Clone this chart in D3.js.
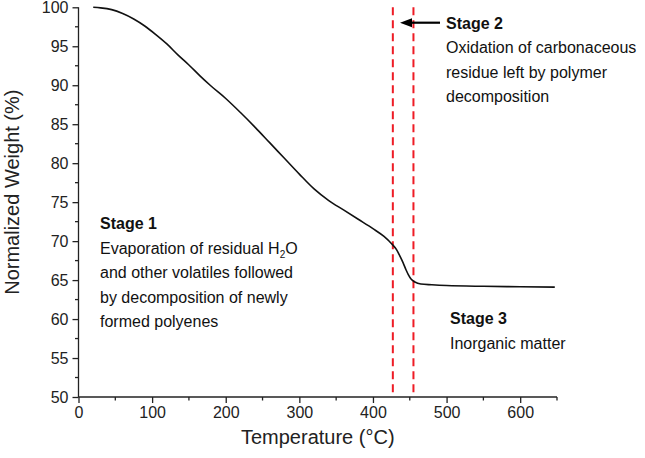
<!DOCTYPE html>
<html>
<head>
<meta charset="utf-8">
<script src="https://cdn.jsdelivr.net/npm/d3@7"></script>
<style>
  html, body { margin: 0; padding: 0; background: #fff; }
  svg { display: block; font-family: "Liberation Sans", Arial, sans-serif; }
</style>
</head>
<body>
<svg id="chart" width="645" height="458"></svg>
<script>
// ---- data ----
const temperatures = [20, 30, 45, 60, 75, 90, 105, 120, 135, 150, 165, 180, 200, 220, 240, 260, 280, 300, 320, 340, 360, 380, 400, 415, 425, 432, 437, 441, 445, 448, 452, 457, 465, 480, 500, 550, 600, 647];
const weights = [100, 99.93, 99.7, 99.2, 98.5, 97.6, 96.5, 95.3, 93.9, 92.6, 91.2, 89.9, 88.3, 86.5, 84.6, 82.6, 80.6, 78.6, 76.7, 75.2, 74.0, 72.8, 71.6, 70.6, 69.7, 68.9, 68.0, 67.2, 66.3, 65.7, 65.1, 64.75, 64.5, 64.4, 64.3, 64.2, 64.15, 64.1];
const xTicks = [0, 100, 200, 300, 400, 500, 600];
const yTicks = [50, 55, 60, 65, 70, 75, 80, 85, 90, 95, 100];
const stageLines = [427, 455];
const xTitle = "Temperature (°C)";
const yTitle = "Normalized Weight (%)";

// ---- layout ----
const svg = d3.select("#chart");
const mLeft = 78.5, mRight = 557, mTop = 7.3, mBottom = 397;
const x = d3.scaleLinear().domain([0, 650]).range([mLeft, mRight]);
const y = d3.scaleLinear().domain([50, 100]).range([mBottom, mTop]);
const axisColor = "#222";

// minor ticks
const xMinor = d3.range(50, 651, 100);
const yMinor = d3.range(52.5, 100, 5);

// red dashed lines
svg.selectAll("line.stage").data(stageLines).join("line")
  .attr("class", "stage")
  .attr("x1", d => x(d)).attr("x2", d => x(d))
  .attr("y1", y(100)).attr("y2", y(50) - 1)
  .attr("stroke", "#ee1c25").attr("stroke-width", 2)
  .attr("stroke-dasharray", "8,5");

// X axis
const gx = svg.append("g").attr("transform", `translate(0,${mBottom})`);
gx.call(d3.axisBottom(x).tickValues(xTicks).tickSize(6).tickPadding(4).tickFormat(d3.format("d")));
gx.append("g").selectAll("line").data(xMinor).join("line")
  .attr("x1", d => x(d)).attr("x2", d => x(d)).attr("y1", 0).attr("y2", 3.5)
  .attr("stroke", axisColor).attr("stroke-width", 1.3);

// Y axis
const gy = svg.append("g").attr("transform", `translate(${mLeft},0)`);
gy.call(d3.axisLeft(y).tickValues(yTicks).tickSize(6).tickPadding(4).tickFormat(d3.format("d")));
gy.append("g").selectAll("line").data(yMinor).join("line")
  .attr("y1", d => y(d)).attr("y2", d => y(d)).attr("x1", 0).attr("x2", -3.5)
  .attr("stroke", axisColor).attr("stroke-width", 1.3);

[gx, gy].forEach(g => {
  g.select(".domain").attr("stroke", axisColor).attr("stroke-width", 1.3)
    .attr("d", g === gx ? `M${mLeft},0H${mRight}` : `M0,${mBottom}V${mTop}`);
  g.selectAll(".tick line").attr("stroke", axisColor).attr("stroke-width", 1.3);
  g.selectAll(".tick text").attr("fill", "#222").style("font-size", "16px")
    .style("font-family", "'Liberation Sans', Arial, sans-serif");
});

// axis titles
svg.append("text").attr("x", (mLeft + mRight) / 2).attr("y", 444)
  .attr("text-anchor", "middle").attr("fill", "#222").style("font-size", "20px").text(xTitle);
svg.append("text").attr("transform", `translate(19,${(mTop + mBottom) / 2 - 10}) rotate(-90)`)
  .attr("text-anchor", "middle").attr("fill", "#222").style("font-size", "20px").text(yTitle);

// curve
const pts = temperatures.map((t, i) => [t, weights[i]]);
svg.append("path").datum(pts)
  .attr("fill", "none").attr("stroke", "#111").attr("stroke-width", 1.6)
  .attr("d", d3.line().x(d => x(d[0])).y(d => y(d[1])).curve(d3.curveMonotoneX));

// annotations
const lh = 24.5;
function textLine(x0, y0, str, bold) {
  const t = svg.append("text").attr("x", x0).attr("y", y0).attr("fill", "#111").style("font-size", "16px");
  if (bold) t.attr("font-weight", "bold");
  t.text(str);
  return t;
}
// Stage 1
const s1x = 100, s1y = 229;
textLine(s1x, s1y, "Stage 1", true);
const evap = svg.append("text").attr("x", s1x).attr("y", s1y + lh).attr("fill", "#111").style("font-size", "16px");
evap.append("tspan").text("Evaporation of residual H");
evap.append("tspan").attr("dy", 4).style("font-size", "10px").text("2");
evap.append("tspan").attr("dy", -4).text("O");
textLine(s1x, s1y + 2 * lh, "and other volatiles followed");
textLine(s1x, s1y + 3 * lh, "by decomposition of newly");
textLine(s1x, s1y + 4 * lh, "formed polyenes");

// Stage 2
const s2x = 446, s2y = 28.5;
["Stage 2", "Oxidation of carbonaceous", "residue left by polymer", "decomposition"]
  .forEach((s, i) => textLine(s2x, s2y + i * lh, s, i === 0));

// Stage 3
const s3x = 450, s3y = 324;
["Stage 3", "Inorganic matter"].forEach((s, i) => textLine(s3x, s3y + i * lh, s, i === 0));

// arrow
const ay = 22.7;
svg.append("line").attr("x1", 440).attr("x2", 408).attr("y1", ay).attr("y2", ay)
  .attr("stroke", "#000").attr("stroke-width", 2.2);
svg.append("path").attr("d", `M400,${ay}L412,${ay - 4.5}L412,${ay + 4.5}Z`).attr("fill", "#000");
</script>
</body>
</html>
